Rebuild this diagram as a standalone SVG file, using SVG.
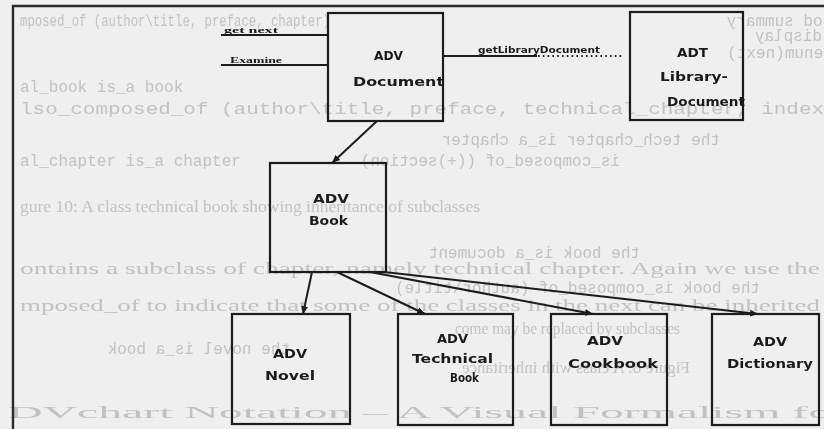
<svg xmlns="http://www.w3.org/2000/svg" width="824" height="429" viewBox="0 0 824 429">
  <style>
    .ghost { fill: #c2c2c2; }
    .gm { font-family: "Liberation Mono", monospace; font-size: 16px; }
    .gs { font-family: "Liberation Serif", serif; font-size: 17px; }
    .frame { stroke: #2a2a2a; stroke-width: 2.4; fill: none; }
    .box { fill: none; stroke: #1c1c1c; stroke-width: 2.2; }
    .lbl { font-family: "DejaVu Sans", sans-serif; font-weight: bold; font-size: 13px; fill: #1a1a1a; }
    .edge { stroke: #1c1c1c; stroke-width: 2; fill: none; }
    .msg { font-family: "Liberation Serif", serif; font-weight: bold; font-size: 9px; fill: #1a1a1a; }
    .msg2 { font-family: "DejaVu Sans", sans-serif; font-weight: bold; font-size: 8px; fill: #1a1a1a; }
  </style>
  <defs>
    <marker id="ah" markerWidth="9" markerHeight="8" refX="8" refY="4" orient="auto" markerUnits="userSpaceOnUse">
      <path d="M0,0.5 L8,4 L0,7.5 z" fill="#1c1c1c"/>
    </marker>
    <filter id="soft" x="-2%" y="-20%" width="104%" height="140%">
      <feGaussianBlur stdDeviation="0.6"/>
    </filter>
  </defs>

  <!-- page -->
  <rect width="824" height="429" fill="#efefef"/>

  <!-- faint show-through print of the page -->
  <g id="show-through" class="ghost" filter="url(#soft)">
    <text class="gm" x="20" y="26" textLength="310" lengthAdjust="spacingAndGlyphs">mposed_of (author\title, preface, chapter)</text>
    <text class="gm" transform="translate(861,0) scale(-1,1)" x="0" y="26">method summary</text>
    <text class="gm" transform="translate(870,0) scale(-1,1)" x="0" y="41">next.display</text>
    <text class="gm" transform="translate(900,0) scale(-1,1)" x="0" y="58">next &lt;- enum(next)</text>
    <text class="gm" x="20" y="92">al_book is_a book</text>
    <text class="gm" font-size="18" x="20" y="114" textLength="804" lengthAdjust="spacingAndGlyphs">lso_composed_of (author\title, preface, technical_chapter, index</text>
    <text class="gm" transform="translate(720,0) scale(-1,1)" x="0" y="145">the tech_chapter is_a chapter</text>
    <text class="gm" x="20" y="166">al_chapter is_a chapter</text>
    <text class="gm" transform="translate(620,0) scale(-1,1)" x="0" y="166">is_composed_of ((+)section)</text>
    <text class="gs" x="20" y="212" textLength="460" lengthAdjust="spacingAndGlyphs">gure 10: A class technical book showing inheritance of subclasses</text>
    <text class="gm" transform="translate(640,0) scale(-1,1)" x="0" y="258">the book is_a document</text>
    <text class="gs" font-size="19" x="20" y="274" textLength="800" lengthAdjust="spacingAndGlyphs">ontains a subclass of chapter, namely technical chapter. Again we use the</text>
    <text class="gm" transform="translate(760,0) scale(-1,1)" x="0" y="293">the book is_composed_of (author\title)</text>
    <text class="gs" font-size="19" x="20" y="311" textLength="800" lengthAdjust="spacingAndGlyphs">mposed_of to indicate that some of the classes in the next can be inherited</text>
    <text class="gs" font-size="15" x="455" y="334" textLength="225" lengthAdjust="spacingAndGlyphs">come may be replaced by subclasses</text>
    <text class="gm" transform="translate(290,0) scale(-1,1)" x="0" y="354">the novel is_a book</text>
    <text class="gs" font-size="14" transform="translate(690,0) scale(-1,1)" x="0" y="373">Figure 8: A class with inheritance</text>
    <text class="gs" font-size="36" x="8" y="418" textLength="840" lengthAdjust="spacingAndGlyphs">DVchart Notation – A Visual Formalism for</text>
  </g>

  <!-- figure frame -->
  <path class="frame" d="M13,429 V6 H824"/>

  <!-- connectors -->
  <g id="connectors">
    <line class="edge" x1="221" y1="35" x2="328" y2="35"/>
    <text class="msg" x="224" y="33" textLength="54" lengthAdjust="spacingAndGlyphs">get next</text>
    <line class="edge" x1="221" y1="65" x2="328" y2="65"/>
    <text class="msg" x="230" y="63" textLength="52" lengthAdjust="spacingAndGlyphs">Examine</text>

    <line class="edge" x1="443" y1="56" x2="537" y2="56"/>
    <line class="edge" x1="538" y1="56" x2="622" y2="56" stroke-dasharray="1.6 3.2"/>
    <text class="msg2" x="478" y="53" textLength="122" lengthAdjust="spacingAndGlyphs">getLibraryDocument</text>

    <line class="edge" x1="377" y1="121" x2="332" y2="163" marker-end="url(#ah)"/>
    <line class="edge" x1="312" y1="272" x2="303" y2="314" marker-end="url(#ah)"/>
    <line class="edge" x1="337" y1="272" x2="425" y2="314" marker-end="url(#ah)"/>
    <line class="edge" x1="370" y1="272" x2="593" y2="314" marker-end="url(#ah)"/>
    <line class="edge" x1="384" y1="272" x2="758" y2="314" marker-end="url(#ah)"/>
  </g>

  <!-- nodes -->
  <g id="adv-document">
    <rect class="box" x="328" y="13" width="115" height="108"/>
    <text class="lbl" x="374" y="60" textLength="29" lengthAdjust="spacingAndGlyphs">ADV</text>
    <text class="lbl" x="353" y="86" textLength="91" lengthAdjust="spacingAndGlyphs">Document</text>
  </g>

  <g id="adt-library-document">
    <rect class="box" x="630" y="12" width="113" height="108"/>
    <text class="lbl" x="677" y="57" textLength="31" lengthAdjust="spacingAndGlyphs">ADT</text>
    <text class="lbl" x="660" y="81" textLength="68" lengthAdjust="spacingAndGlyphs">Library-</text>
    <text class="lbl" x="667" y="106" textLength="78" lengthAdjust="spacingAndGlyphs">Document</text>
  </g>

  <g id="adv-book">
    <rect class="box" x="270" y="163" width="116" height="109"/>
    <text class="lbl" x="313" y="203" textLength="36" lengthAdjust="spacingAndGlyphs">ADV</text>
    <text class="lbl" x="309" y="225" textLength="39" lengthAdjust="spacingAndGlyphs">Book</text>
  </g>

  <g id="adv-novel">
    <rect class="box" x="232" y="314" width="118" height="110"/>
    <text class="lbl" x="273" y="358" textLength="34" lengthAdjust="spacingAndGlyphs">ADV</text>
    <text class="lbl" x="265" y="380" textLength="50" lengthAdjust="spacingAndGlyphs">Novel</text>
  </g>

  <g id="adv-technical-book">
    <rect class="box" x="398" y="314" width="115" height="111"/>
    <text class="lbl" x="437" y="343" textLength="31" lengthAdjust="spacingAndGlyphs">ADV</text>
    <text class="lbl" x="412" y="363" textLength="81" lengthAdjust="spacingAndGlyphs">Technical</text>
    <text class="lbl" x="450" y="382" textLength="29" lengthAdjust="spacingAndGlyphs">Book</text>
  </g>

  <g id="adv-cookbook">
    <rect class="box" x="551" y="314" width="116" height="111"/>
    <text class="lbl" x="587" y="345" textLength="36" lengthAdjust="spacingAndGlyphs">ADV</text>
    <text class="lbl" x="568" y="368" textLength="90" lengthAdjust="spacingAndGlyphs">Cookbook</text>
  </g>

  <g id="adv-dictionary">
    <rect class="box" x="712" y="314" width="107" height="111"/>
    <text class="lbl" x="753" y="346" textLength="34" lengthAdjust="spacingAndGlyphs">ADV</text>
    <text class="lbl" x="727" y="368" textLength="86" lengthAdjust="spacingAndGlyphs">Dictionary</text>
  </g>
</svg>
